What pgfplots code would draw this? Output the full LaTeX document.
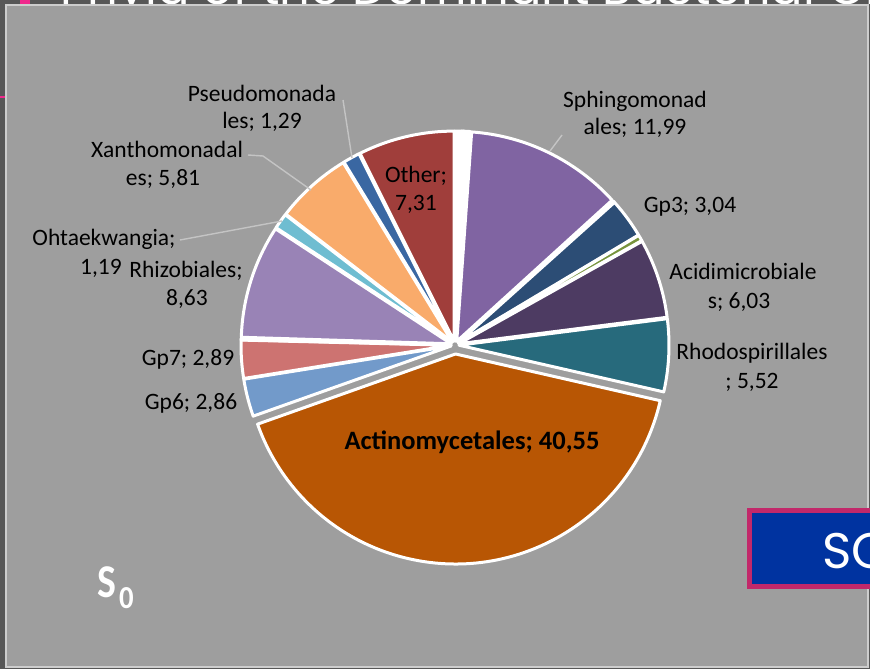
\documentclass[border=0pt]{standalone}
\usepackage{fontspec}
\setmainfont{Carlito}
\newfontfamily\pop{Poppins}
\usepackage{etoolbox}
\usepackage{pgfplots}
\usepackage{pgfplotstable}
\pgfplotsset{compat=1.18}

\definecolor{cDark}{HTML}{575757}
\definecolor{cFrame}{HTML}{CDCDCD}
\definecolor{cBg}{HTML}{9E9E9E}
\definecolor{cLead}{HTML}{C4C4C4}
\definecolor{cPink}{HTML}{F0288C}
\definecolor{cBoxPink}{HTML}{C2286A}
\definecolor{cBoxBlue}{HTML}{0033A0}
% slice colours (Office accent cycle)
\definecolor{cRedA}{HTML}{C0504D}
\definecolor{cOrA}{HTML}{F79646}
\definecolor{cSph}{HTML}{8064A2}
\definecolor{cGp3}{HTML}{2C4D75}
\definecolor{cGrn}{HTML}{77933C}
\definecolor{cAci}{HTML}{4D3B62}
\definecolor{cRho}{HTML}{276A7C}
\definecolor{cAct}{HTML}{B85604}
\definecolor{cGp6}{HTML}{729ACA}
\definecolor{cGp7}{HTML}{CD7371}
\definecolor{cRhi}{HTML}{9983B6}
\definecolor{cOht}{HTML}{6FBDD1}
\definecolor{cXan}{HTML}{F9AB6B}
\definecolor{cPse}{HTML}{3A67A2}
\definecolor{cOth}{HTML}{A03E3B}

% values clockwise from 12 o'clock; d = explosion offset
\pgfplotstableread{
val   col    d
0.50  white  4
0.12  cRedA  4
0.50  white  4
11.99 cSph   4
0.10  cOrA   4
3.04  cGp3   4
0.45  cGrn   4
6.03  cAci   4
5.52  cRho   4
40.55 cAct   9
2.86  cGp6   4
2.89  cGp7   4
0.10  white  4
8.63  cRhi   4
1.19  cOht   4
5.81  cXan   4
1.29  cPse   4
7.31  cOth   4
}\slices

\pgfplotstablegetrowsof{\slices}
\pgfmathtruncatemacro\nlast{\pgfplotsretval-1}
\gdef\total{0}
\foreach \i in {0,...,\nlast}{%
  \pgfplotstablegetelem{\i}{val}\of\slices
  \pgfmathsetmacro\t{\total+\pgfplotsretval}%
  \xdef\total{\t}%
}
\gdef\cum{0}
\gdef\slicecmds{}
\foreach \i in {0,...,\nlast}{%
  \pgfplotstablegetelem{\i}{val}\of\slices \let\v\pgfplotsretval
  \pgfplotstablegetelem{\i}{col}\of\slices \let\c\pgfplotsretval
  \pgfplotstablegetelem{\i}{d}\of\slices \let\dd\pgfplotsretval
  \pgfmathsetmacro\a{90-\cum/\total*360}%
  \pgfmathsetmacro\b{90-(\cum+\v)/\total*360}%
  \pgfmathsetmacro\m{(\a+\b)/2}%
  \pgfmathsetmacro\px{455+\dd*cos(\m)}%
  \pgfmathsetmacro\py{345-\dd*sin(\m)}%
  \xappto\slicecmds{\noexpand\filldraw[fill=\c, draw=white, line width=3pt, line join=round]
    (axis cs:\px,\py) -- ++(\a:210pt) arc[start angle=\a, end angle=\b, radius=210pt] -- cycle;}%
  \pgfmathsetmacro\nc{\cum+\v}%
  \xdef\cum{\nc}%
}

\newcommand\lab{\fontsize{23.5}{27}\selectfont}

\begin{document}
\begin{tikzpicture}
\path[use as bounding box] (0,0) rectangle (870pt,669pt);
\begin{axis}[
  hide axis, scale only axis,
  width=870pt, height=669pt,
  xmin=0, xmax=870, ymin=0, ymax=669,
  y dir=reverse, clip=true,
]
% slide background and frame
\fill[cDark] (axis cs:0,0) rectangle (axis cs:870,669);
\fill[cPink] (axis cs:20,0) rectangle (axis cs:30,4);
\fill[cFrame] (axis cs:5,4) rectangle (axis cs:869,668);
\fill[cBg] (axis cs:7,6) rectangle (axis cs:867,666);
\draw[cPink, line width=2.5pt] (axis cs:0,97) -- (axis cs:5,97);

% pie slices
\slicecmds

% leader lines
\draw[cLead, line width=1.4pt] (axis cs:343,100) -- (axis cs:352,158);
\draw[cLead, line width=1.4pt] (axis cs:248,155) -- (axis cs:263,156) -- (axis cs:311,190);
\draw[cLead, line width=1.4pt] (axis cs:180,240) -- (axis cs:282,221);
\draw[cLead, line width=1.4pt] (axis cs:562,135) -- (axis cs:550,151);

% data labels
\begin{scope}[every node/.style={anchor=base, font=\lab, inner sep=0pt, text=black}]
\node at (axis cs:262,101) {Pseudomonada};
\node at (axis cs:262,128) {les; 1,29};
\node at (axis cs:635,107) {Sphingomonad};
\node at (axis cs:635,134) {ales; 11,99};
\node at (axis cs:167,157) {Xanthomonadal};
\node at (axis cs:163,185) {es; 5,81};
\node at (axis cs:416,182) {Other;};
\node at (axis cs:416,210) {7,31};
\node at (axis cs:690,212) {Gp3; 3,04};
\node at (axis cs:104,245) {Ohtaekwangia;};
\node at (axis cs:101,274) {1,19};
\node at (axis cs:186,277) {Rhizobiales;};
\node at (axis cs:187,305) {8,63};
\node at (axis cs:743,279) {Acidimicrobiale};
\node at (axis cs:739,308) {s; 6,03};
\node at (axis cs:752,359) {Rhodospirillales};
\node at (axis cs:752,388) {; 5,52};
\node at (axis cs:188,365) {Gp7; 2,89};
\node at (axis cs:191,409) {Gp6; 2,86};
\node[font=\fontsize{26.5}{30}\selectfont\bfseries] at (axis cs:472,449) {Actinomycetales; 40,55};
\end{scope}

% S0 marker
\node[anchor=base west, text=white, inner sep=0pt, xscale=0.85, font=\fontsize{47}{50}\selectfont\bfseries]
  at (axis cs:97,597) {S};
\node[anchor=base west, text=white, inner sep=0pt, xscale=0.9, font=\fontsize{32}{36}\selectfont\bfseries]
  at (axis cs:119,608) {0};

% SC box at bottom right
\filldraw[fill=cBoxBlue, draw=cBoxPink, line width=5pt] (axis cs:749.5,510.5) rectangle (axis cs:900,586.5);
\node[anchor=base west, text=white, inner sep=0pt, font=\pop\fontsize{50}{56}\selectfont]
  at (axis cs:822,568) {SC};
\end{axis}
% slide title: only its lowest strip shows above the frame
\begin{scope}
\clip (0pt,665pt) rectangle (870pt,669pt);
\node[anchor=base west, text=white, inner sep=0pt, font=\pop\fontsize{48}{52}\selectfont]
  at (60pt,664.5pt) {Phyla of the Dominant Bacterial Orders};
\end{scope}
\end{tikzpicture}
\end{document}
